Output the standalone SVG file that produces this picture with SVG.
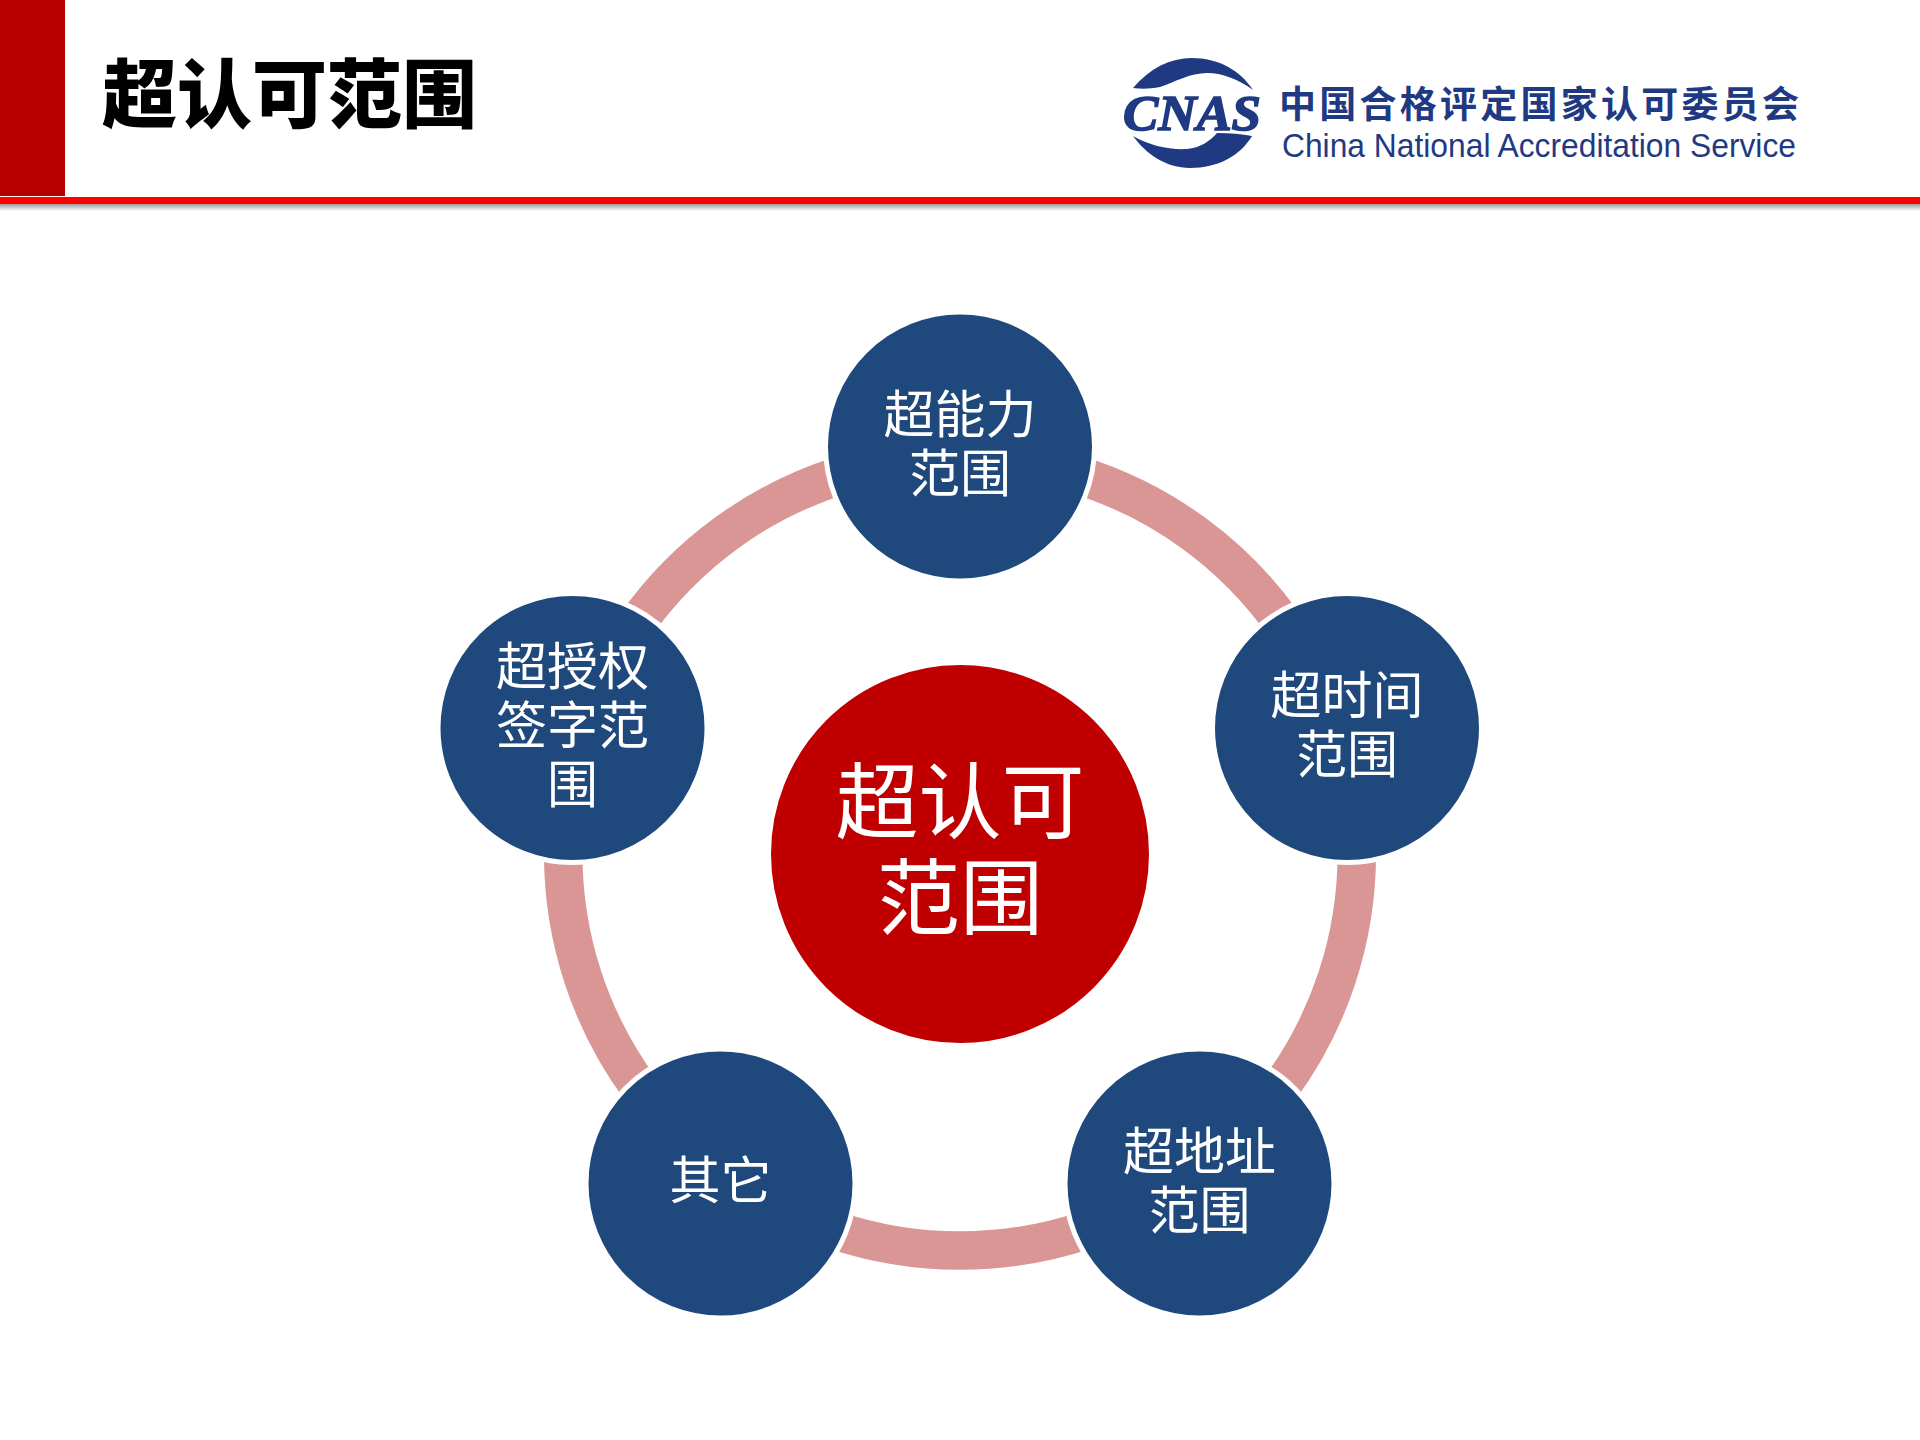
<svg xmlns="http://www.w3.org/2000/svg" width="1920" height="1440" viewBox="0 0 1920 1440">
<style>
.cjk{font-family:"Noto Sans CJK SC","Noto Sans CJK TC",sans-serif}
.node{fill:#1f497d;stroke:#fff;stroke-width:5}
.lbl{fill:#fff;font-size:51px;text-anchor:middle}
.arc{fill:none;stroke:#d99694;stroke-width:38.5}
</style>
<defs><linearGradient id="sh" x1="0" y1="0" x2="0" y2="1"><stop offset="0" stop-color="#9a9a9a"/><stop offset="1" stop-color="#fff"/></linearGradient></defs>
<rect width="1920" height="1440" fill="#fff"/>
<g id="header">
<rect x="0" y="0" width="65" height="196" fill="#b60000"/>
<rect x="0" y="204" width="1920" height="7" fill="url(#sh)"/>
<rect x="0" y="197" width="1920" height="7" fill="#f00"/>
<text class="cjk" x="102" y="122" font-size="75" font-weight="900" fill="#000">超认可范围</text>
</g>
<g id="logo" fill="#1f3a82">
<path d="M1133 88C1150 68 1170 58 1192 58C1218 58 1240 70 1253 90C1238 79 1222 73 1207 73C1190 73 1175 82 1160 87C1150 89 1141 89 1133 88Z"/>
<path d="M1133 136C1150 146 1170 150 1187 149C1200 148 1210 141 1217 133C1230 133 1242 134 1252 136C1240 156 1218 168 1190 168C1166 168 1146 154 1133 136Z"/>
<text x="1123" y="130" font-family="'Liberation Serif',serif" font-style="italic" font-weight="700" font-size="50" stroke="#1f3a82" stroke-width="1.6" textLength="138" lengthAdjust="spacingAndGlyphs">CNAS</text>
<text class="cjk" x="1279" y="118" font-size="37" font-weight="700" textLength="520">中国合格评定国家认可委员会</text>
<text x="1282" y="157" font-family="'Liberation Sans',sans-serif" font-size="33" textLength="514" lengthAdjust="spacingAndGlyphs">China National Accreditation Service</text>
</g>
<g id="connectors">
<path class="arc" d="M960 457A397 397 0 0 1 1338 733"/>
<path class="arc" d="M1338 733A397 397 0 0 1 1193 1175"/>
<path class="arc" d="M1193 1175A397 397 0 0 1 727 1175"/>
<path class="arc" d="M727 1175A397 397 0 0 1 582 733"/>
<path class="arc" d="M582 733A397 397 0 0 1 960 457"/>
</g>
<g id="center"><circle cx="960" cy="854" r="191.5" fill="#c00000" stroke="#fff" stroke-width="5"/>
<text class="cjk" font-size="83" fill="#fff" text-anchor="middle"><tspan x="960" y="832">超认可</tspan><tspan x="960" y="928">范围</tspan></text></g>
<g id="node-top"><circle class="node" cx="960" cy="446.5" r="134.5"/>
<text class="cjk lbl"><tspan x="960" y="433">超能力</tspan><tspan x="960" y="492">范围</tspan></text></g>
<g id="node-right"><circle class="node" cx="1347" cy="728" r="134.5"/>
<text class="cjk lbl"><tspan x="1347" y="714">超时间</tspan><tspan x="1347" y="773">范围</tspan></text></g>
<g id="node-bottom-right"><circle class="node" cx="1199.5" cy="1183.5" r="134.5"/>
<text class="cjk lbl"><tspan x="1199.5" y="1170">超地址</tspan><tspan x="1199.5" y="1229">范围</tspan></text></g>
<g id="node-bottom-left"><circle class="node" cx="720.5" cy="1183.5" r="134.5"/>
<text class="cjk lbl" x="720.5" y="1199">其它</text></g>
<g id="node-left"><circle class="node" cx="572.5" cy="728" r="134.5"/>
<text class="cjk lbl"><tspan x="572.5" y="685">超授权</tspan><tspan x="572.5" y="744">签字范</tspan><tspan x="572.5" y="803">围</tspan></text></g>
</svg>
